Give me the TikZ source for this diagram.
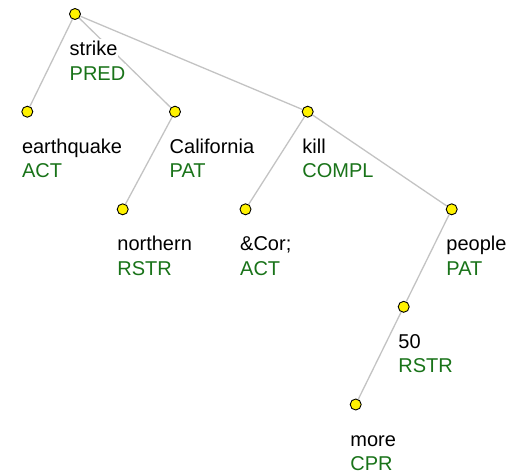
\documentclass[tikz,border=0pt]{standalone}
\usepackage{fontspec}
\setmainfont{Liberation Sans}
\usetikzlibrary{calc,backgrounds}
\definecolor{fgreen}{RGB}{25,115,25}
\definecolor{edgegray}{RGB}{195,195,195}
\tikzset{
  tnode/.style={circle,draw=black,fill=yellow,line width=0.9pt,minimum size=11pt,inner sep=0pt},
  tedge/.style={draw=edgegray,line width=1.3pt},
  lemma/.style={anchor=base west,fill=white,inner xsep=1pt,inner ysep=2pt,font=\fontsize{20pt}{24pt}\selectfont,text=black},
  func/.style={anchor=base west,fill=white,inner xsep=1pt,inner ysep=2pt,font=\fontsize{20pt}{24pt}\selectfont,text=fgreen}
}
\newcommand{\tlabel}[3]{%
  \node[lemma] (#1w) at ($(#1)+(-6.5,41.5)$) {#2};
  \node[func] (#1f) at ($(#1)+(-6.5,66)$) {#3};
}
\begin{document}
\begin{tikzpicture}[x=1pt,y=-1pt]
\useasboundingbox (0,0) rectangle (513,474);
% tree nodes
\node[tnode] (strike) at (75,14) {};
\node[tnode] (earthquake) at (27.3,111.7) {};
\node[tnode] (california) at (175,111.7) {};
\node[tnode] (kill) at (307.7,111.7) {};
\node[tnode] (northern) at (122.7,209.3) {};
\node[tnode] (cor) at (245.5,209.3) {};
\node[tnode] (people) at (451.7,209.3) {};
\node[tnode] (fifty) at (403.7,306.8) {};
\node[tnode] (more) at (355.7,404.5) {};
% labels
\tlabel{strike}{strike}{PRED}
\tlabel{earthquake}{earthquake}{ACT}
\tlabel{california}{California}{PAT}
\tlabel{kill}{kill}{COMPL}
\tlabel{northern}{northern}{RSTR}
\tlabel{cor}{\&Cor;}{ACT}
\tlabel{people}{people}{PAT}
\tlabel{fifty}{50}{RSTR}
\tlabel{more}{more}{CPR}
% edges behind
\begin{pgfonlayer}{background}
\draw[tedge] (strike) -- (earthquake);
\draw[tedge] (strike) -- (california);
\draw[tedge] (strike) -- (kill);
\draw[tedge] (california) -- (northern);
\draw[tedge] (kill) -- (cor);
\draw[tedge] (kill) -- (people);
\draw[tedge] (people) -- (fifty);
\draw[tedge] (fifty) -- (more);
\end{pgfonlayer}
\end{tikzpicture}
\end{document}
